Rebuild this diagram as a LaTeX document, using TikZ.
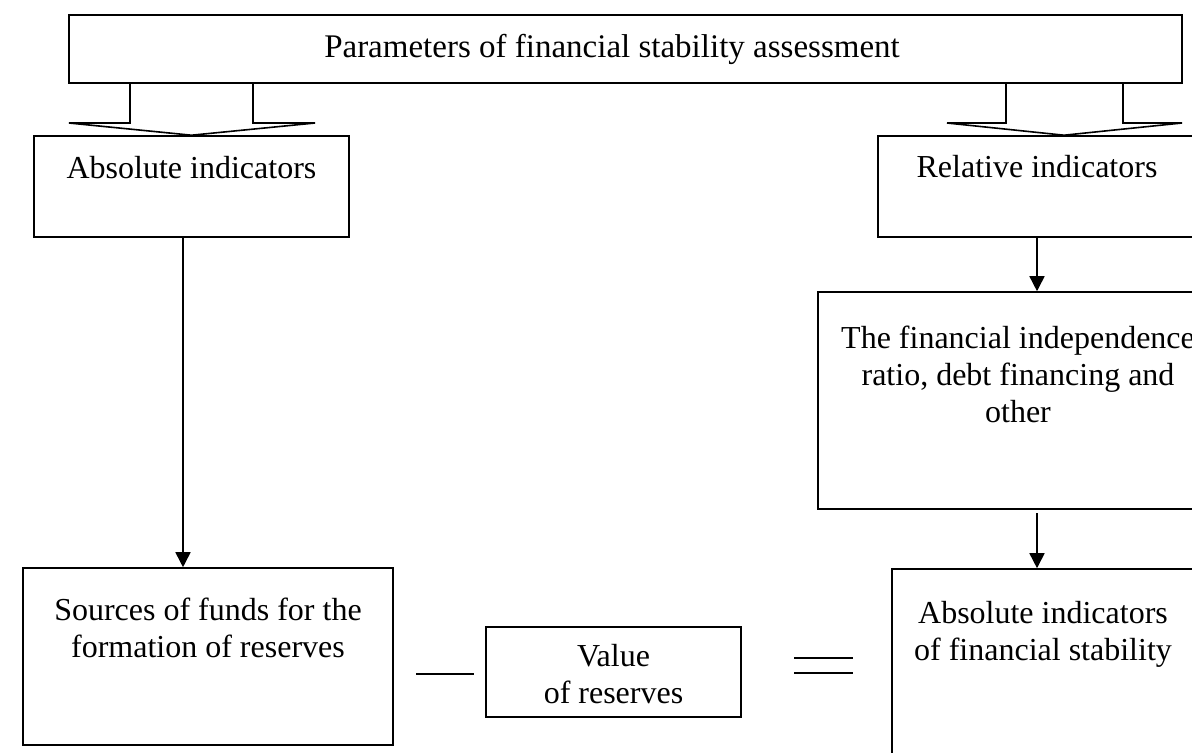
\documentclass[tikz,border=0pt]{standalone}
\usepackage{fontspec}
\setmainfont{Liberation Serif}
\usetikzlibrary{arrows.meta}
\tikzstyle{box}=[rectangle,draw=black,line width=0.8pt,inner sep=0pt]
\tikzstyle{txt}=[align=center,inner sep=0pt,font=\fontsize{16}{18.5}\selectfont]
\tikzstyle{arr}=[line width=0.8pt,-{Triangle[length=7.5pt,width=7.5pt]}]
\tikzstyle{hollow}=[line width=0.8pt,line join=miter]
\begin{document}
\begin{tikzpicture}[x=0.5pt,y=-0.5pt]
    \useasboundingbox (0,0) rectangle (1192,752);
    \fill[white] (0,0) rectangle (1192,752);
    \clip (0,0) rectangle (1192,752);
    \node [style=box,minimum width=556.5pt,minimum height=34pt] (par) at (625.5,49) {};
    \node [style=txt,anchor=base,font=\fontsize{16.5}{18.5}\selectfont] (partxt) at (612,57) {Parameters of financial stability assessment};
    \node [style=box,minimum width=157.5pt,minimum height=50.5pt] (abs) at (191.5,186.5) {};
    \node [style=txt,anchor=base] (abstxt) at (191.5,178) {Absolute indicators};
    \node [style=box,minimum width=159pt,minimum height=50.5pt] (rel) at (1037,186.5) {};
    \node [style=txt,anchor=base] (reltxt) at (1037,177) {Relative indicators};
    \node [style=box,minimum width=200pt,minimum height=108.5pt] (ind) at (1018,400.5) {};
    \node [style=txt,anchor=base] (indtxt) at (1018,422) {The financial independence\\ratio, debt financing and\\other};
    \node [style=box,minimum width=185pt,minimum height=88.5pt] (src) at (208,656.5) {};
    \node [style=txt,anchor=base] (srctxt) at (208,657) {Sources of funds for the\\formation of reserves};
    \node [style=box,minimum width=127.5pt,minimum height=45pt] (val) at (613.5,672) {};
    \node [style=txt,anchor=base] (valtxt) at (613.5,703) {Value\\of reserves};
    \node [style=box,minimum width=151pt,minimum height=95pt] (stab) at (1043,664) {};
    \node [style=txt,anchor=base] (stabtxt) at (1043,660) {Absolute indicators\\of financial stability};
    % wide arrows from the top box
    \draw [style=hollow] (par.south -| 130,0) -- (130,123) -- (69,123) -- (abs.north) -- (315,123) -- (253,123) -- (par.south -| 253,0);
    \draw [style=hollow] (par.south -| 1006,0) -- (1006,123) -- (947,123) -- (rel.north -| 1064,0) -- (1182,123) -- (1123,123) -- (par.south -| 1123,0);
    \draw [style=arr] (abs.south -| 183,0) to (src.north -| 183,0);
    \draw [style=arr] (rel.south -| 1037,0) to (ind.north -| 1037,0);
    \draw [style=arr] (1037,513) to (stab.north -| 1037,0);
    % signs between the bottom boxes
    \draw [line width=0.8pt] (416,674) -- (474,674);
    \draw [line width=0.8pt] (794,658) -- (853,658);
    \draw [line width=0.8pt] (794,673) -- (853,673);
\end{tikzpicture}
\end{document}
